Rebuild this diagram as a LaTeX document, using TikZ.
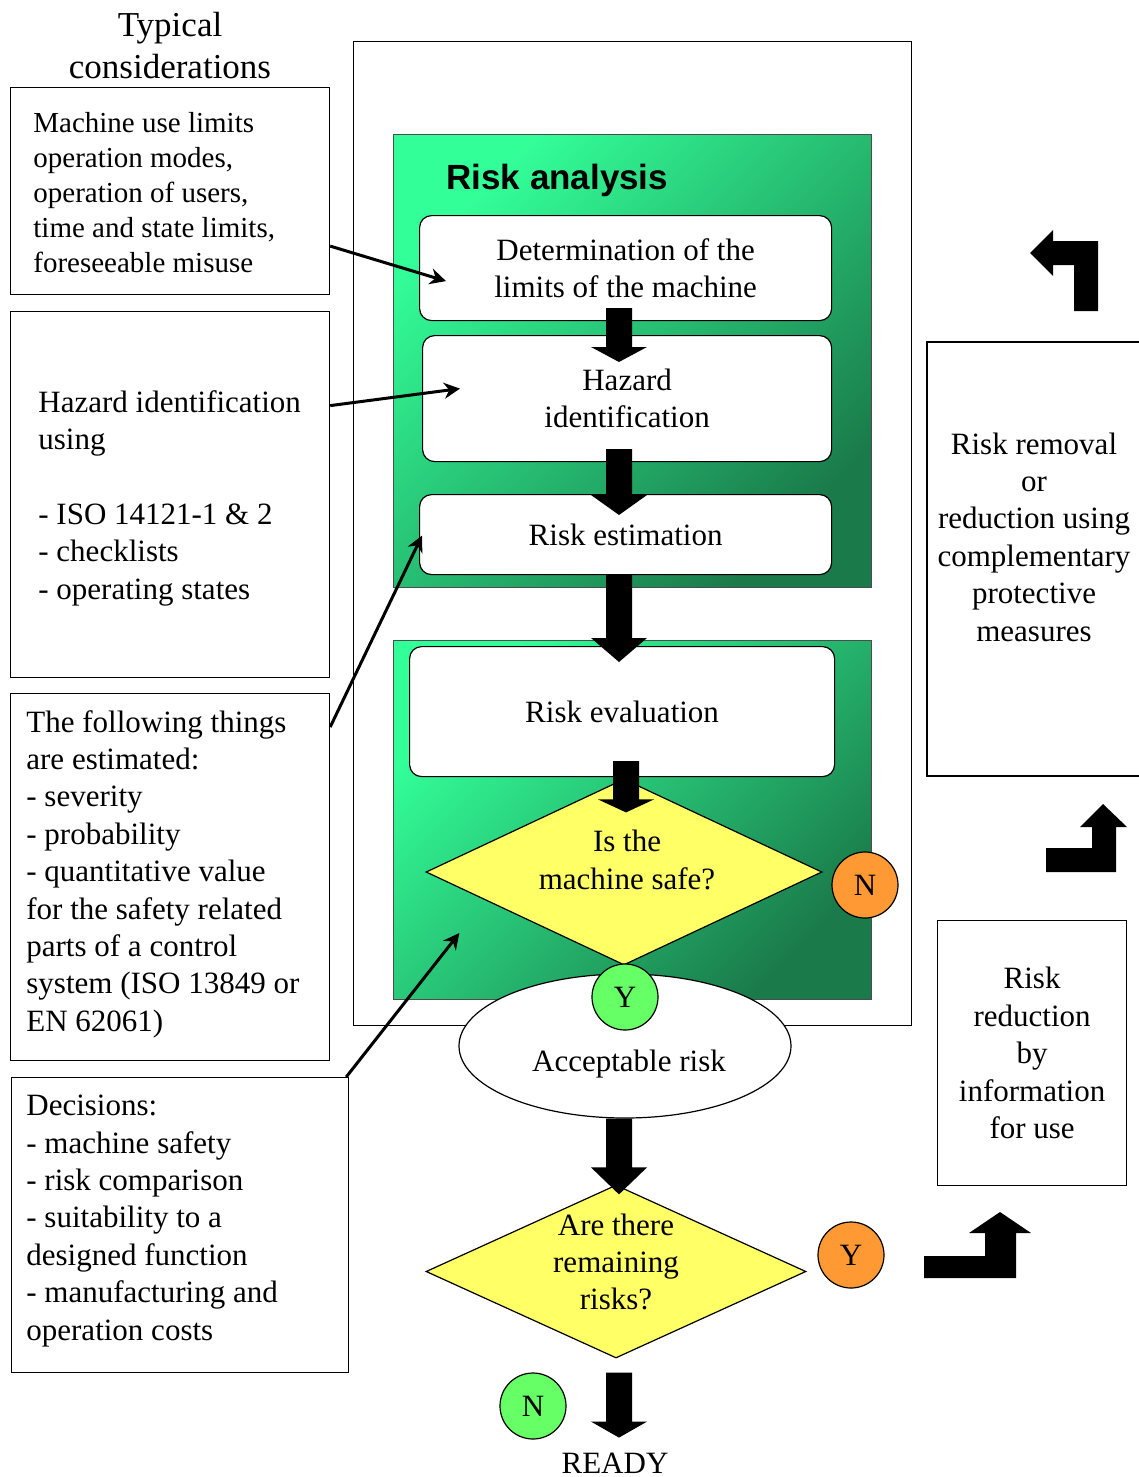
\documentclass[tikz,border=0pt]{standalone}
\usepackage{fontspec}
\setmainfont{Liberation Serif}
\setsansfont{Liberation Sans}
\usetikzlibrary{arrows.meta,calc,positioning,shapes.geometric}

\definecolor{riskgreen}{RGB}{51,255,153}
\definecolor{riskdarkgreen}{RGB}{26,122,74}
\definecolor{askyellow}{RGB}{255,255,102}
\definecolor{noorange}{RGB}{255,153,51}
\definecolor{yesgreen}{RGB}{102,255,102}

\newcommand{\diagfont}{\fontsize{15.5pt}{18.7pt}\selectfont}
\newcommand{\smalldiagfont}{\fontsize{14.5pt}{17.5pt}\selectfont}
\newcommand{\titlefnt}{\fontsize{17.5pt}{21pt}\selectfont}

% block arrow pointing down: start, tip, head length
\newcommand{\blockarrow}[3]{%
  \fill ($(#1)+(-13,0)$) -- ($(#2)+(-13,-#3)$) -- ($(#2)+(-28,-#3)$) -- (#2)
    -- ($(#2)+(28,-#3)$) -- ($(#2)+(13,-#3)$) -- ($(#1)+(13,0)$) -- cycle;}

\tikzstyle{framebox} = [draw, line width=0.6pt, inner sep=0pt, anchor=north west]
\tikzstyle{greenbox} = [framebox, draw=black!70, top color=riskgreen,
  bottom color=riskdarkgreen, shading angle=45]
\tikzstyle{stepbox} = [framebox, fill=white, rounded corners=6pt, align=center, font=\diagfont]
\tikzstyle{listtext} = [anchor=west, align=left, inner sep=0pt, font=\diagfont]
\tikzstyle{question} = [diamond, draw, fill=askyellow, line width=0.6pt, inner sep=0pt]
\tikzstyle{answer} = [circle, draw, line width=0.6pt, minimum size=33pt, inner sep=0pt, font=\diagfont]
\tikzstyle{thinarrow} = [-{Stealth[length=8pt,width=8pt]}, line width=1.5pt]

\begin{document}
\begin{tikzpicture}[x=0.5pt, y=-0.5pt]
  \useasboundingbox (0,0) rectangle (1139,1477);

  % typical considerations
  \node[align=center, font=\titlefnt] (title) at (170,46) {Typical\\considerations};
  \node[framebox, minimum width=159.5pt, minimum height=103.5pt] (limits) at (10,87) {};
  \node[listtext, font=\smalldiagfont] (limitstext) at (33,193)
    {Machine use limits\\operation modes,\\operation of users,\\time and state limits,\\foreseeable misuse};
  \node[framebox, minimum width=159.5pt, minimum height=183pt] (hazlist) at (10,311) {};
  \node[listtext] (hazlisttext) at (38,498)
    {Hazard identification\\using\\[18.7pt]- ISO 14121-1 \& 2\\- checklists\\- operating states};
  \node[framebox, minimum width=159.5pt, minimum height=183.5pt] (estlist) at (10,693) {};
  \node[listtext] (estlisttext) at (26,874)
    {The following things\\are estimated:\\- severity\\- probability\\- quantitative value\\for the safety related\\parts of a control\\system (ISO 13849 or\\EN 62061)};
  \node[framebox, minimum width=168.5pt, minimum height=147.5pt] (decide) at (11,1077) {};
  \node[listtext] (decidetext) at (26,1221)
    {Decisions:\\- machine safety\\- risk comparison\\- suitability to a\\designed function\\- manufacturing and\\operation costs};

  % risk analysis / evaluation
  \node[framebox, minimum width=279pt, minimum height=492pt] (frame) at (353,41) {};
  \node[greenbox, minimum width=239pt, minimum height=226.5pt] (analysis) at (393,134) {};
  \node[anchor=west, inner sep=0pt, font=\sffamily\bfseries\titlefnt] (analysistitle) at (446,180) {Risk analysis};
  \node[stepbox, minimum width=206pt, minimum height=52.5pt] (det) at (419,215) {Determination of the\\limits of the machine};
  \node[stepbox, minimum width=204.5pt, minimum height=63pt] (haz) at (422,335) {Hazard\\identification};
  \node[stepbox, minimum width=206pt, minimum height=40pt] (est) at (419,494) {Risk estimation};
  \node[greenbox, minimum width=239pt, minimum height=179.5pt] (evaluation) at (393,640) {};
  \node[stepbox, minimum width=212.5pt, minimum height=65pt] (eval) at (409,646) {Risk evaluation};
  \node[question, minimum width=198pt, minimum height=93pt] (safe) at (624,872) {};
  \node[align=center, font=\diagfont] (safetext) at (627,860) {Is the\\machine safe?};
  \node[ellipse, draw, fill=white, line width=0.6pt, minimum width=166pt, minimum height=72pt] (accept) at (625,1046) {};
  \node[font=\diagfont] (accepttext) at (629,1064) {Acceptable risk};
  \node[question, minimum width=190pt, minimum height=86.5pt] (remain) at (616,1271.5) {};
  \node[align=center, font=\diagfont] (remaintext) at (616,1262) {Are there\\remaining\\risks?};
  \node[inner sep=0pt, font=\diagfont] (ready) at (615,1463) {READY};

  % block arrows
  \coordinate (axis) at (619,0);
  \coordinate (a1) at ($(det.south -| axis)+(0,-13)$);
  \coordinate (b1) at ($(haz.north -| axis)+(0,27)$);
  \blockarrow{a1}{b1}{15}
  \coordinate (a2) at ($(haz.south -| axis)+(0,-13)$);
  \coordinate (b2) at ($(est.north -| axis)+(0,21)$);
  \blockarrow{a2}{b2}{20}
  \coordinate (a3) at ($(est.south -| axis)+(0,-1)$);
  \coordinate (b3) at ($(eval.north -| axis)+(0,16)$);
  \blockarrow{a3}{b3}{24}
  \coordinate (a4) at ($(eval.south -| axis)+(7,-16)$);
  \coordinate (b4) at ($(safe.north -| axis)+(7,34)$);
  \blockarrow{a4}{b4}{13}
  \coordinate (a5) at (accept.south -| axis);
  \coordinate (b5) at ($(remain.north -| axis)+(0,10)$);
  \blockarrow{a5}{b5}{27}
  \coordinate (a6) at ($(remain.south -| axis)+(0,14)$);
  \coordinate (b6) at ($(remain.south -| axis)+(0,79)$);
  \blockarrow{a6}{b6}{16}

  % answers
  \node[answer, fill=noorange] (safeno) at (865,885) {N};
  \node[answer, fill=yesgreen] (safeyes) at (625,997) {Y};
  \node[answer, fill=noorange] (remainyes) at (851,1255) {Y};
  \node[answer, fill=yesgreen] (remainno) at (533,1406) {N};

  % right column
  \draw[line width=0.6pt] (1139,342) -| (927,776) -- (1139,776);
  \node[align=center, font=\diagfont] (removal) at (1034,537)
    {Risk removal\\or\\reduction using\\complementary\\protective\\measures};
  \node[framebox, minimum width=94.5pt, minimum height=132.5pt, align=center, font=\diagfont] (info) at (937,920)
    {Risk\\reduction\\by\\information\\for use};

  % bent arrows
  \fill (1030,253) -- (1053,230) -- (1053,241) -- (1098,241) -- (1098,311) -- (1074,311)
    -- (1074,265) -- (1053,265) -- (1053,276) -- cycle;
  \fill (1046,872) -- (1116,872) -- (1116,827) -- (1127,827) -- (1103,804) -- (1080,827)
    -- (1092,827) -- (1092,848) -- (1046,848) -- cycle;
  \fill (924,1278) -- (1016,1278) -- (1016,1233) -- (1031,1233) -- (1000,1212) -- (969,1233)
    -- (985,1233) -- (985,1256) -- (924,1256) -- cycle;

  % considerations into the steps
  \draw[thinarrow] ($(limits.east)+(0,55)$) -- ($(det.west)+(27,13)$);
  \draw[thinarrow] ($(hazlist.east)+(0,-89)$) -- ($(haz.west)+(38,-10)$);
  \draw[thinarrow] ($(estlist.north east)+(0,34)$) -- ($(est.west)+(3,1)$);
  \draw[thinarrow] ($(decide.north east)+(-3,0)$) -- ($(safe.west)+(34,61)$);
\end{tikzpicture}
\end{document}
